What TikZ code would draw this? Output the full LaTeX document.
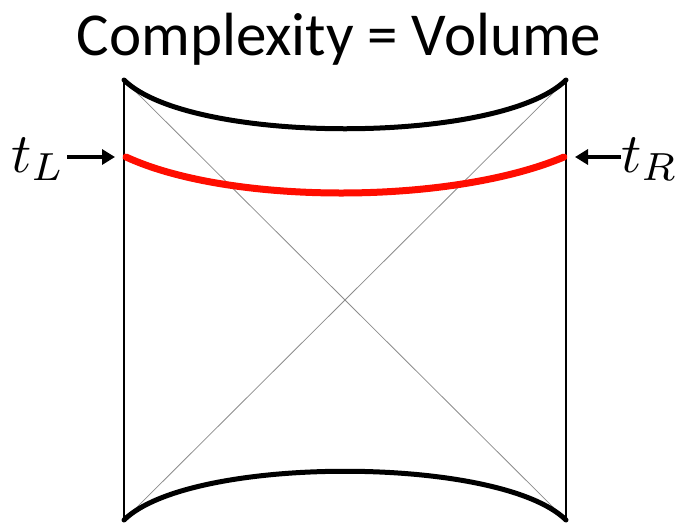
\documentclass[tikz,border=0pt]{standalone}
\usepackage{fontspec}
\newfontfamily\titlefont{Carlito}
\usetikzlibrary{arrows.meta}
\begin{document}
\begin{tikzpicture}[x=1pt,y=-1pt,
  edge/.style={line width=5pt,black,line cap=round},
  diag/.style={line width=0.8pt,black!45},
  side/.style={line width=2.4pt,black},
  slice/.style={line width=7pt,red!90!orange,line cap=round},
  ptr/.style={line width=3.5pt,-{Triangle[length=13pt,width=15pt]}},
  lbl/.style={inner sep=0pt,scale=5.6}]
\useasboundingbox (0,0) rectangle (678,523);
\coordinate (TL) at (124,80);
\coordinate (TR) at (566,80);
\coordinate (BL) at (124,520);
\coordinate (BR) at (566,520);
\node[font=\titlefont\fontsize{61}{64}\selectfont,inner sep=0pt,anchor=base] (title) at (339,55) {Complexity = Volume};
\draw[diag] (TL) -- (BR);
\draw[diag] (TR) -- (BL);
\draw[side] (TL) -- (BL);
\draw[side] (TR) -- (BR);
\draw[edge] (TL) .. controls (190,145) and (500,145) .. (TR);
\draw[edge] (BL) .. controls (190,455) and (500,455) .. (BR);
\coordinate (sL) at (126,157);
\coordinate (sR) at (564,157);
\draw[slice] (sL) .. controls (230,205) and (450,205) .. (sR);
\node[lbl,anchor=base east] (tL) at (66,172) {$t_L$};
\node[lbl,anchor=base west] (tR) at (620,172) {$t_R$};
\coordinate (aL) at (115,157);
\coordinate (aR) at (575,157);
\draw[ptr] ([xshift=1pt]tL.east |- aL) -- (aL);
\draw[ptr] ([xshift=1pt]tR.west |- aR) -- (aR);
\end{tikzpicture}
\end{document}
